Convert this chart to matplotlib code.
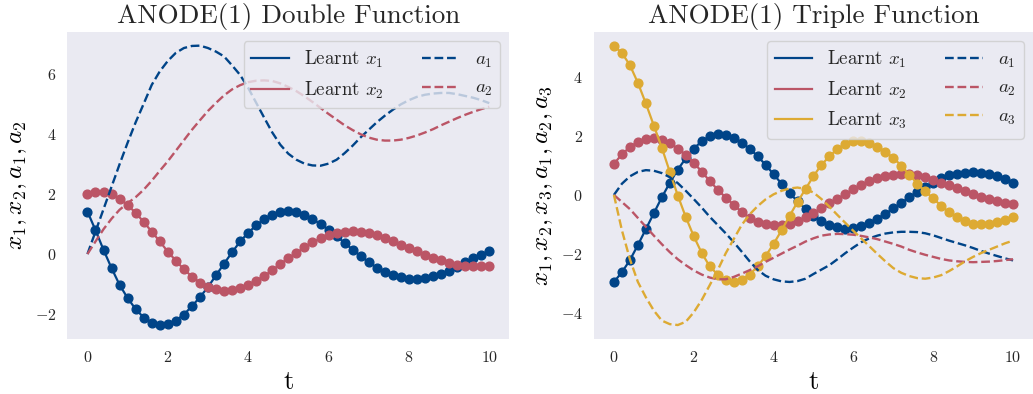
import numpy as np
import matplotlib
matplotlib.use("Agg")
import matplotlib.pyplot as plt

# --- style: seaborn-like grey panel, no grid, Computer Modern text
plt.rcParams.update({
    "font.family": "serif",
    "font.serif": ["cmr10"],
    "mathtext.fontset": "cm",
    "axes.formatter.use_mathtext": True,
    "axes.facecolor": "#EAEAF2",
    "axes.edgecolor": "white",
    "axes.grid": False,
    "text.color": ".15",
    "xtick.color": ".15",
    "ytick.color": ".15",
})

BLUE, RED, YELLOW = "#004488", "#BB5566", "#DDAA33"

t = np.linspace(0, 10, 51)

# --- ANODE(1) double function
dbl_x1 = [1.42, 0.80, 0.14, -0.47, -1.03, -1.47, -1.84, -2.12, -2.29, -2.37,
          -2.34, -2.22, -2.02, -1.74, -1.44, -1.10, -0.71, -0.32, 0.06, 0.42,
          0.71, 0.96, 1.17, 1.32, 1.40, 1.43, 1.40, 1.31, 1.17, 1.00,
          0.81, 0.60, 0.37, 0.15, -0.07, -0.27, -0.45, -0.59, -0.69, -0.78,
          -0.82, -0.83, -0.79, -0.74, -0.66, -0.55, -0.42, -0.28, -0.14, -0.02,
          0.11]
dbl_x2 = [2.00, 2.08, 2.08, 2.00, 1.85, 1.63, 1.38, 1.07, 0.75, 0.42,
          0.08, -0.22, -0.51, -0.75, -0.95, -1.10, -1.18, -1.22, -1.20, -1.12,
          -1.02, -0.89, -0.73, -0.54, -0.33, -0.14, 0.04, 0.22, 0.39, 0.52,
          0.62, 0.69, 0.74, 0.76, 0.75, 0.69, 0.62, 0.53, 0.42, 0.31,
          0.20, 0.09, -0.03, -0.12, -0.21, -0.29, -0.36, -0.40, -0.41, -0.41,
          -0.41]
dbl_a1 = [0.00, 0.75, 1.50, 2.25, 3.00, 3.72, 4.40, 5.02, 5.65, 6.10,
          6.45, 6.72, 6.88, 6.95, 6.96, 6.88, 6.76, 6.60, 6.30, 5.98,
          5.55, 5.05, 4.55, 4.06, 3.65, 3.35, 3.15, 3.02, 2.96, 2.95,
          3.02, 3.15, 3.37, 3.62, 3.90, 4.15, 4.40, 4.62, 4.82, 5.00,
          5.14, 5.25, 5.32, 5.36, 5.38, 5.38, 5.34, 5.28, 5.22, 5.14,
          5.04]
dbl_a2 = [0.00, 0.42, 0.83, 1.18, 1.48, 1.70, 1.90, 2.15, 2.45, 2.78,
          3.10, 3.45, 3.80, 4.15, 4.47, 4.78, 5.05, 5.30, 5.50, 5.64,
          5.74, 5.79, 5.80, 5.78, 5.70, 5.58, 5.44, 5.27, 5.08, 4.88,
          4.68, 4.49, 4.30, 4.14, 4.00, 3.89, 3.82, 3.79, 3.79, 3.82,
          3.88, 3.96, 4.06, 4.17, 4.30, 4.42, 4.54, 4.65, 4.75, 4.84,
          4.92]

# --- ANODE(1) triple function
tri_x1 = [-2.95, -2.62, -2.21, -1.70, -1.16, -0.62, -0.08, 0.41, 0.86, 1.24,
          1.57, 1.82, 1.99, 2.06, 2.04, 1.93, 1.77, 1.57, 1.31, 1.02,
          0.70, 0.38, 0.07, -0.22, -0.47, -0.70, -0.89, -1.01, -1.09, -1.14,
          -1.13, -1.06, -0.94, -0.80, -0.64, -0.46, -0.27, -0.08, 0.11, 0.27,
          0.42, 0.56, 0.66, 0.72, 0.76, 0.77, 0.75, 0.71, 0.63, 0.55,
          0.42]
tri_x2 = [1.05, 1.38, 1.62, 1.80, 1.90, 1.92, 1.87, 1.76, 1.57, 1.36,
          1.09, 0.79, 0.47, 0.18, -0.09, -0.33, -0.58, -0.79, -0.93, -1.00,
          -1.03, -1.02, -0.97, -0.88, -0.76, -0.61, -0.46, -0.29, -0.13, 0.03,
          0.19, 0.33, 0.46, 0.57, 0.64, 0.68, 0.70, 0.70, 0.68, 0.62,
          0.52, 0.42, 0.32, 0.22, 0.12, 0.03, -0.06, -0.14, -0.22, -0.28,
          -0.32]
tri_x3 = [5.06, 4.81, 4.40, 3.80, 3.10, 2.35, 1.60, 0.78, -0.02, -0.75,
          -1.40, -1.97, -2.42, -2.70, -2.90, -2.95, -2.87, -2.70, -2.42, -2.07,
          -1.66, -1.20, -0.71, -0.24, 0.20, 0.64, 1.02, 1.31, 1.56, 1.73,
          1.82, 1.84, 1.77, 1.64, 1.46, 1.26, 0.99, 0.69, 0.38, 0.12,
          -0.12, -0.37, -0.59, -0.76, -0.89, -0.97, -1.00, -0.99, -0.93, -0.85,
          -0.74]
tri_a1 = [0.00, 0.38, 0.63, 0.78, 0.84, 0.82, 0.74, 0.60, 0.40, 0.14,
          -0.14, -0.43, -0.74, -1.02, -1.30, -1.60, -1.92, -2.25, -2.54, -2.74,
          -2.86, -2.93, -2.95, -2.92, -2.84, -2.68, -2.53, -2.38, -2.18, -1.97,
          -1.78, -1.60, -1.47, -1.38, -1.31, -1.27, -1.25, -1.25, -1.26, -1.30,
          -1.37, -1.46, -1.55, -1.63, -1.71, -1.80, -1.90, -1.99, -2.07, -2.15,
          -2.22]
tri_a2 = [0.00, -0.24, -0.48, -0.78, -1.08, -1.38, -1.67, -1.94, -2.18, -2.38,
          -2.56, -2.70, -2.80, -2.86, -2.86, -2.78, -2.67, -2.55, -2.42, -2.27,
          -2.13, -1.99, -1.85, -1.72, -1.58, -1.47, -1.38, -1.34, -1.32, -1.33,
          -1.35, -1.39, -1.44, -1.50, -1.58, -1.66, -1.75, -1.86, -1.95, -2.03,
          -2.10, -2.17, -2.22, -2.25, -2.27, -2.28, -2.27, -2.26, -2.24, -2.21,
          -2.18]
tri_a3 = [0.00, -1.20, -2.18, -2.95, -3.47, -3.92, -4.26, -4.38, -4.41, -4.30,
          -3.98, -3.56, -3.06, -2.55, -1.98, -1.50, -1.02, -0.66, -0.38, -0.15,
          0.02, 0.14, 0.22, 0.25, 0.20, 0.08, -0.14, -0.40, -0.68, -0.95,
          -1.22, -1.48, -1.74, -2.00, -2.25, -2.48, -2.64, -2.75, -2.82, -2.84,
          -2.80, -2.72, -2.58, -2.42, -2.25, -2.10, -1.97, -1.86, -1.75, -1.64,
          -1.55]

fig = plt.figure(figsize=(10.33, 3.94), dpi=100)
ax1 = fig.add_axes([0.0652, 0.1396, 0.4279, 0.780])
ax2 = fig.add_axes([0.575, 0.1396, 0.425, 0.780])


def draw(ax, xs, As, colors, title, ylabel):
    for i, (x, c) in enumerate(zip(xs, colors)):
        ax.plot(t, x, "o", color=c, ms=6.3)
        ax.plot(t, x, "-", color=c, lw=1.6, label=f"Learnt $x_{i + 1}$")
    for i, (a, c) in enumerate(zip(As, colors)):
        ax.plot(t, a, "--", color=c, lw=1.7, label=f"$a_{i + 1}$")
    ax.set_title(title, fontsize=19.5)
    ax.set_xlabel("t", fontsize=19)
    ax.set_ylabel(ylabel, fontsize=18)
    ax.tick_params(length=0, pad=8, labelsize=11.5)
    ax.set_xticks([0, 2, 4, 6, 8, 10])
    for s in ax.spines.values():
        s.set_visible(False)
    ax.legend(loc="upper right", ncol=2, fontsize=13.6)


draw(ax1, [dbl_x1, dbl_x2], [dbl_a1, dbl_a2], [BLUE, RED],
     "ANODE(1) Double Function", "$x_1, x_2, a_1, a_2$")
draw(ax2, [tri_x1, tri_x2, tri_x3], [tri_a1, tri_a2, tri_a3], [BLUE, RED, YELLOW],
     "ANODE(1) Triple Function", "$x_1, x_2, x_3, a_1, a_2, a_3$")
ax2.set_yticks([-4, -2, 0, 2, 4])

fig.savefig("out.png", dpi=100)
